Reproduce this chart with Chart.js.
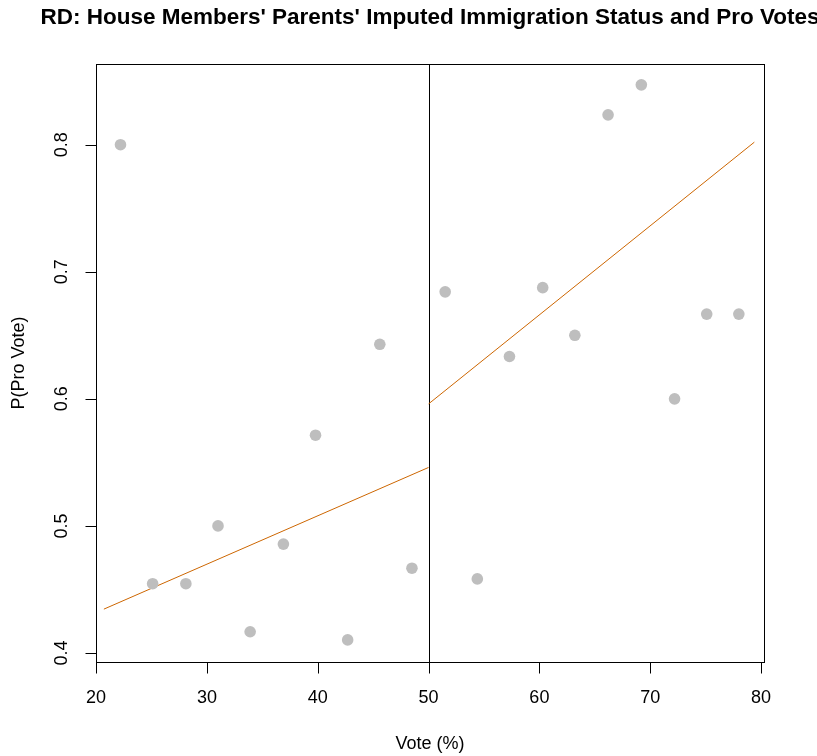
<!DOCTYPE html>
<html>
<head>
<meta charset="utf-8">
<script src="https://cdn.jsdelivr.net/npm/chart.js@4"></script>
<style>
  html, body { margin: 0; padding: 0; background: #fff; }
  #wrap { width: 817px; height: 756px; }
</style>
</head>
<body>
<div id="wrap"><canvas id="c" width="817" height="756"></canvas></div>
<script>
// Binned vote share (%) and share of pro votes per bin
const voteShare = [22.2, 25.1, 28.1, 31.0, 33.9, 36.9, 39.8, 42.7, 45.6, 48.5,
                   51.5, 54.4, 57.3, 60.3, 63.2, 66.2, 69.2, 72.2, 75.1, 78.0];
const proVote   = [0.800, 0.4545, 0.4545, 0.500, 0.4167, 0.4857, 0.5714, 0.4103, 0.6429, 0.4667,
                   0.6842, 0.4583, 0.6333, 0.6875, 0.650, 0.8235, 0.8471, 0.600, 0.6667, 0.6667];

// Fitted lines on each side of the 50% cutoff
const leftFitX  = [20.7, 50];
const leftFitY  = [0.4345, 0.5460];
const rightFitX = [50, 79.4];
const rightFitY = [0.5960, 0.8020];

const cutoff = 50;
const xTicks = [20, 30, 40, 50, 60, 70, 80];
const yTicks = [0.4, 0.5, 0.6, 0.7, 0.8];

const FONT = '"Liberation Sans", Arial, Helvetica, sans-serif';

const toPts = (xs, ys) => xs.map((x, i) => ({ x: x, y: ys[i] }));

// Base-graphics style frame, axes, cutoff line and labels
const frame = {
  id: 'frame',
  beforeDatasetsDraw(chart) {
    const { ctx, chartArea: a, scales: { x } } = chart;
    ctx.save();
    ctx.strokeStyle = '#000';
    ctx.lineWidth = 1;
    const xc = Math.round(x.getPixelForValue(cutoff)) + 0.5;
    ctx.beginPath();
    ctx.moveTo(xc, a.top);
    ctx.lineTo(xc, a.bottom);
    ctx.stroke();
    ctx.restore();
  },
  afterDraw(chart) {
    const { ctx, chartArea: a, scales: { x, y } } = chart;
    ctx.save();
    ctx.strokeStyle = '#000';
    ctx.lineWidth = 1;
    const L = Math.round(a.left) + 0.5, R = Math.round(a.right) + 0.5;
    const T = Math.round(a.top) + 0.5, B = Math.round(a.bottom) + 0.5;
    ctx.strokeRect(L, T, R - L, B - T);

    // x axis
    const tick = 11;
    const x0 = Math.round(x.getPixelForValue(xTicks[0])) + 0.5;
    const x1 = Math.round(x.getPixelForValue(xTicks[xTicks.length - 1])) + 0.5;
    ctx.beginPath();
    ctx.moveTo(x0, B); ctx.lineTo(x1, B);
    xTicks.forEach(v => {
      const px = Math.round(x.getPixelForValue(v)) + 0.5;
      ctx.moveTo(px, B); ctx.lineTo(px, B + tick);
    });
    // y axis
    yTicks.forEach(v => {
      const py = Math.round(y.getPixelForValue(v)) + 0.5;
      ctx.moveTo(L, py); ctx.lineTo(L - tick, py);
    });
    ctx.stroke();

    ctx.fillStyle = '#000';
    ctx.font = '18px ' + FONT;
    ctx.textAlign = 'center';
    ctx.textBaseline = 'middle';
    xTicks.forEach(v => ctx.fillText(String(v), x.getPixelForValue(v), 698));
    yTicks.forEach(v => {
      ctx.save();
      ctx.translate(62, y.getPixelForValue(v));
      ctx.rotate(-Math.PI / 2);
      ctx.fillText(v.toFixed(1), 0, 0);
      ctx.restore();
    });

    // axis titles
    ctx.fillText('Vote (%)', (a.left + a.right) / 2, 744);
    ctx.save();
    ctx.translate(19, (a.top + a.bottom) / 2);
    ctx.rotate(-Math.PI / 2);
    ctx.fillText('P(Pro Vote)', 0, 0);
    ctx.restore();

    // main title
    ctx.font = 'bold 22.5px ' + FONT;
    ctx.fillText("RD: House Members' Parents' Imputed Immigration Status and Pro Votes",
                 (a.left + a.right) / 2, 18);
    ctx.restore();
  }
};

new Chart(document.getElementById('c'), {
  type: 'scatter',
  data: {
    datasets: [
      {
        label: 'bins',
        data: toPts(voteShare, proVote),
        backgroundColor: '#BEBEBE',
        borderColor: '#BEBEBE',
        pointRadius: 5.8,
        pointHoverRadius: 5.8,
        borderWidth: 0
      },
      {
        label: 'fit below',
        type: 'line',
        data: toPts(leftFitX, leftFitY),
        borderColor: '#CD6600',
        borderWidth: 1,
        pointRadius: 0,
        fill: false
      },
      {
        label: 'fit above',
        type: 'line',
        data: toPts(rightFitX, rightFitY),
        borderColor: '#CD6600',
        borderWidth: 1,
        pointRadius: 0,
        fill: false
      }
    ]
  },
  options: {
    responsive: false,
    animation: false,
    events: [],
    layout: { padding: { left: 96, top: 64, right: 53, bottom: 94 } },
    plugins: {
      legend: { display: false },
      title: { display: false },
      tooltip: { enabled: false }
    },
    scales: {
      x: { type: 'linear', min: 19.99, max: 80.27, display: false },
      y: { type: 'linear', min: 0.3929, max: 0.8635, display: false }
    }
  },
  plugins: [frame]
});
</script>
</body>
</html>
